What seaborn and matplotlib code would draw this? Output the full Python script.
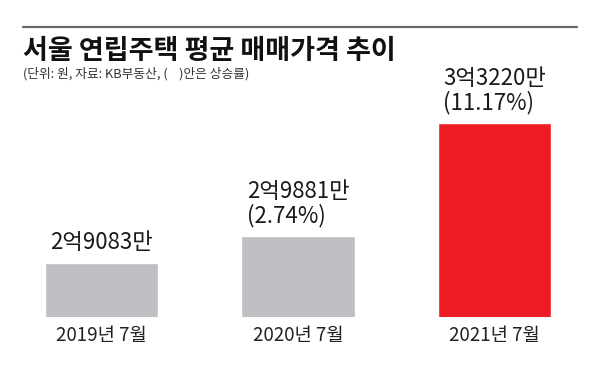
import numpy as np
import matplotlib
matplotlib.use("Agg")
import matplotlib.pyplot as plt
from matplotlib.lines import Line2D
import seaborn as sns

# data (unit: 만원)
periods = ["2019년 7월", "2020년 7월", "2021년 7월"]
prices = [29083, 29881, 33220]
value_labels = ["2억9083만", "2억9881만\n(2.74%)", "3억3220만\n(11.17%)"]
bar_colors = ["#bebfc3", "#bebfc3", "#ed1c24"]

sns.set_theme(style="white")
plt.rcParams["font.family"] = ["Noto Sans CJK KR", "DejaVu Sans"]

W, H = 591, 367
fig = plt.figure(figsize=(W / 100, H / 100), dpi=100)
fig.patch.set_facecolor("white")

# axes bottom at bar base (y=317px), full width
ax = fig.add_axes([0, 1 - 317 / H, 1, 317 / H])
sns.barplot(x=periods, y=prices, hue=periods, palette=bar_colors,
            width=0.576, legend=False, saturation=1, ax=ax)

px_per_unit = 196.5
ax.set_xlim(-101.5 / px_per_unit, (W - 101.5) / px_per_unit)
base = 27487
px_per_val = 0.03384
ax.set_ylim(base, base + 317 / px_per_val)

for s in ax.spines.values():
    s.set_visible(False)
ax.set_yticks([])
ax.set_xlabel("")
ax.set_ylabel("")
ax.tick_params(axis="x", length=0, pad=6, labelsize=13.5, labelcolor="#222222")
ax.set_facecolor("none")

for i, (v, lab) in enumerate(zip(prices, value_labels)):
    ax.annotate(lab, (i, v), xytext=(0, 9), textcoords="offset pixels",
                ha="center", va="bottom", multialignment="left",
                fontsize=16, color="#1a1a1a", linespacing=1.0)

# top rule
fig.add_artist(Line2D([23 / W, 577 / W], [1 - 27 / H, 1 - 27 / H],
                      color="#666666", lw=1.6))

fig.text(23 / W, 1 - 59 / H, "서울 연립주택 평균 매매가격 추이",
         fontsize=19.5, fontweight="bold", color="#111111", va="baseline")
fig.text(23 / W, 1 - 78 / H, "(단위: 원, 자료: KB부동산, (    )안은 상승률)",
         fontsize=9.2, color="#333333", va="baseline")

fig.savefig("out.png", dpi=100, facecolor="white")
